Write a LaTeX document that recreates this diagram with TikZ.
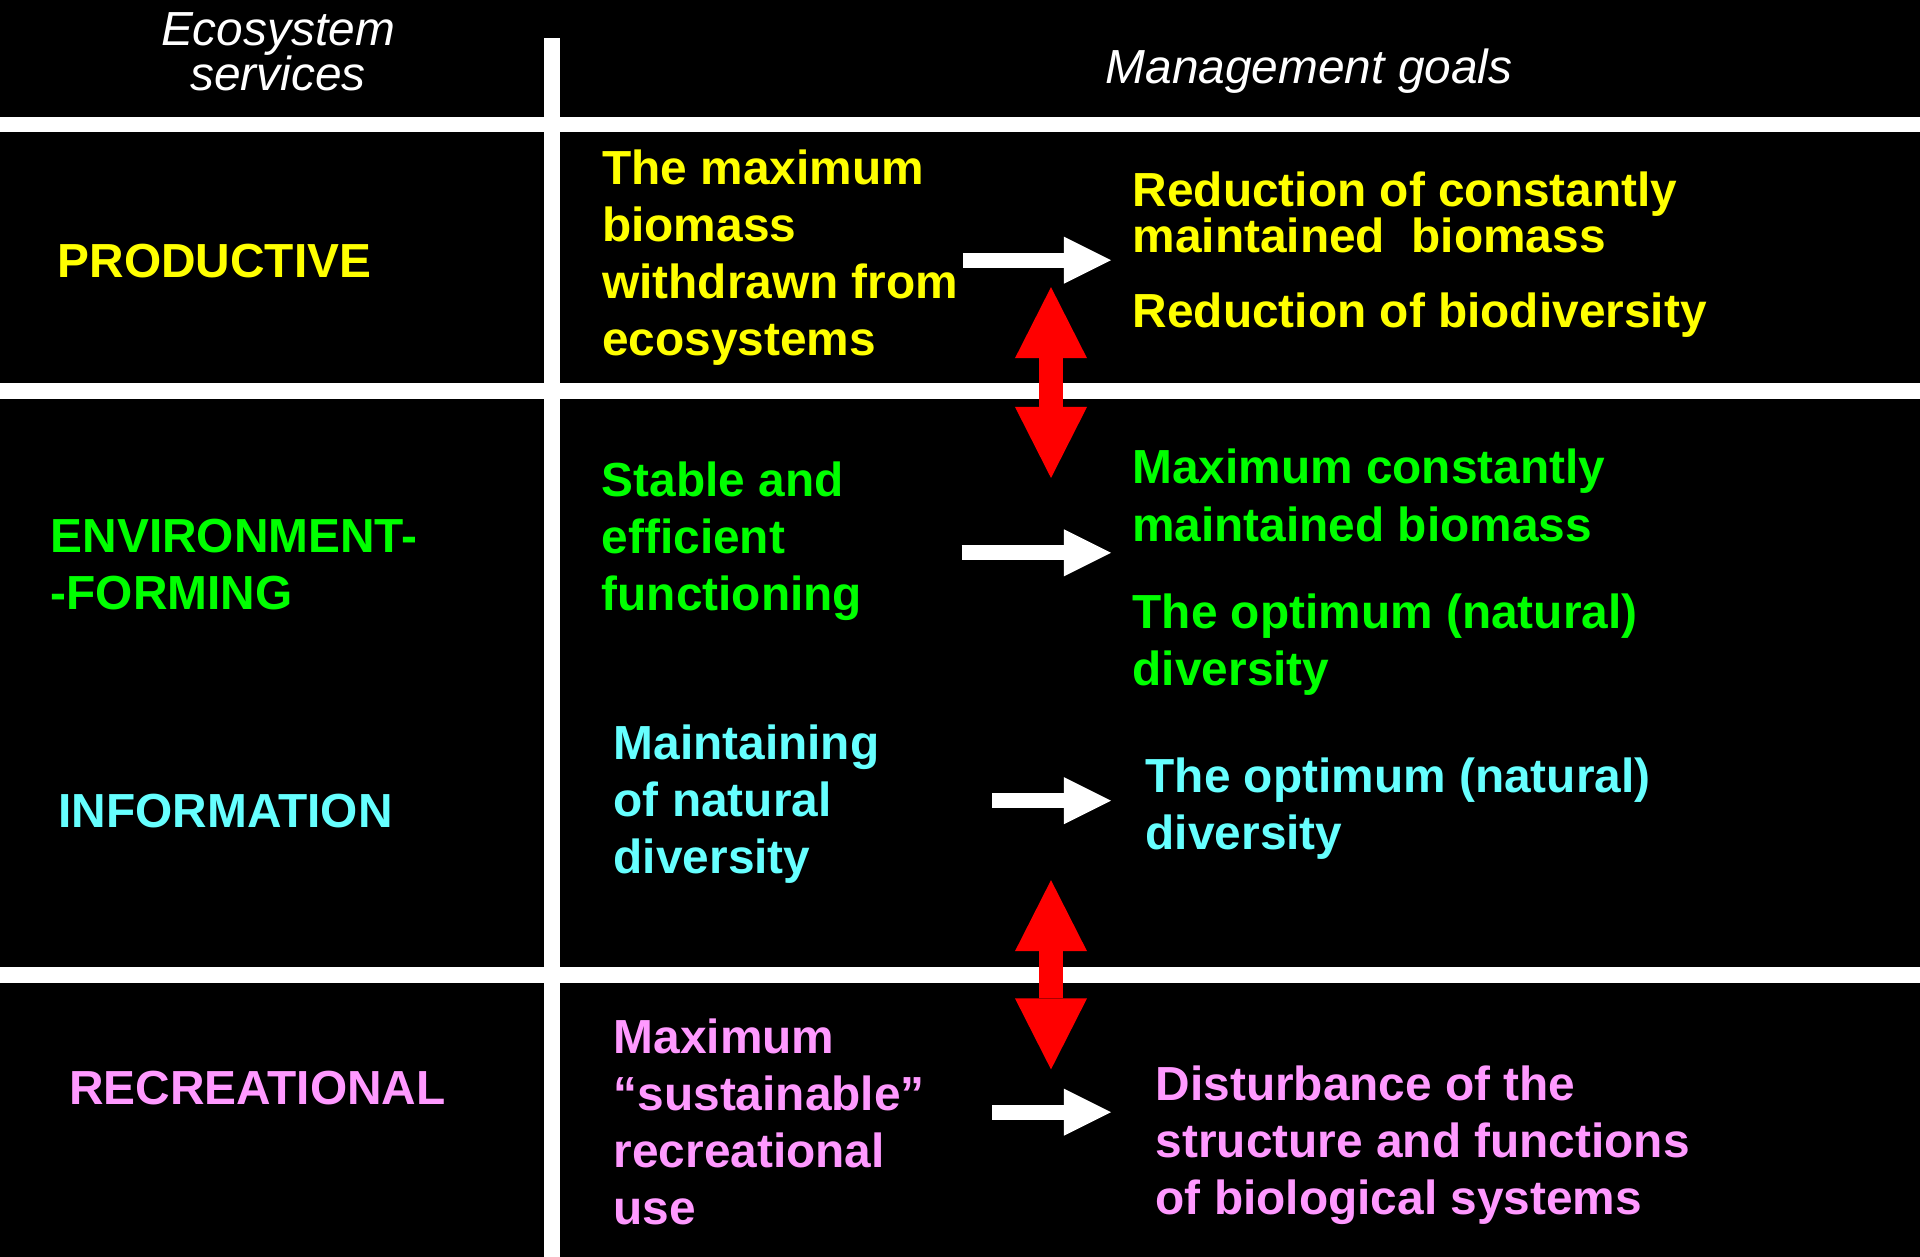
\documentclass[tikz,border=0pt]{standalone}
\usepackage{fontspec}
\setmainfont{Liberation Sans}
\usetikzlibrary{arrows.meta,calc}
\definecolor{prodyellow}{HTML}{FFFF00}
\definecolor{envgreen}{HTML}{00FF00}
\definecolor{infocyan}{HTML}{66FFFF}
\definecolor{recpink}{HTML}{FF99FF}
\begin{document}
\begin{tikzpicture}[x=0.01cm,y=-0.01cm,
  lbl/.style={inner sep=0pt,anchor=base west,align=left,font=\fontsize{13.6}{16.2}\selectfont\bfseries},
  head/.style={inner sep=0pt,anchor=base,align=center,white,font=\fontsize{13.6}{12.8}\selectfont\itshape},
  wharrow/.style={white,line width=0.15cm,-{Triangle[length=0.47cm,width=0.47cm,line width=0pt]}},
  redarrow/.style={red,line width=0.24cm,{Triangle[length=0.71cm,width=0.72cm,line width=0pt]}-{Triangle[length=0.71cm,width=0.72cm,line width=0pt]}}]
   \useasboundingbox (0,0) rectangle (1920,1257);
   \fill[black] (0,0) rectangle (1920,1257);
   % grid of the table
   \fill[white] (0,117) rectangle (1920,132);
   \fill[white] (0,383) rectangle (1920,399);
   \fill[white] (0,967) rectangle (1920,983);
   \fill[white] (544,38) rectangle (560,1257);
  %
   \node[head] (ecoserv) at (278,90.7) {Ecosystem\\services};
   \node[head,anchor=base west] (mgoals) at (1105,83) {Management goals};
  %
   \node[lbl,prodyellow] (prod) at (57,277) {PRODUCTIVE};
   \node[lbl,envgreen] (envf) at (50,609) {ENVIRONMENT-\\-FORMING};
   \node[lbl,infocyan] (info) at (58,827) {INFORMATION};
   \node[lbl,recpink] (recr) at (68.5,1104) {RECREATIONAL};
  %
   \node[lbl,prodyellow] (maxbio) at (601.5,355) {The maximum\\biomass\\withdrawn from\\ecosystems};
   \node[lbl,envgreen] (stable) at (601,610) {Stable and\\efficient\\functioning};
   \node[lbl,infocyan] (maintain) at (613,873) {Maintaining\\of natural\\diversity};
   \node[lbl,recpink] (maxrec) at (613,1224.7) {Maximum\\“sustainable”\\recreational\\use};
  %
   \node[lbl,prodyellow,font=\fontsize{13.6}{12.9}\selectfont\bfseries] (redcon) at (1132,252) {Reduction of constantly\\maintained\ \ biomass};
   \node[lbl,prodyellow] (redbio) at (1132,327.5) {Reduction of biodiversity};
   \node[lbl,envgreen,font=\fontsize{13.6}{16.6}\selectfont\bfseries] (maxcon) at (1131.5,541.7) {Maximum constantly\\maintained biomass};
   \node[lbl,envgreen] (optg) at (1132,685) {The optimum (natural)\\diversity};
   \node[lbl,infocyan] (optc) at (1145,849.5) {The optimum (natural)\\diversity};
   \node[lbl,recpink] (disturb) at (1155,1214.7) {Disturbance of the\\structure and functions\\of biological systems};
  %
   \draw[wharrow] ($(maxbio.east)+(4,3)$) -- ($(redcon.west |- maxbio.east)+(-21,3)$);
   \draw[wharrow] ($(stable.east)+(99,12)$) -- ($(maxcon.west |- stable.east)+(-20.5,12)$);
   \draw[wharrow] ($(maintain.east)+(112,-3)$) -- ($(optc.west |- maintain.east)+(-34,-3)$);
   \draw[wharrow] ($(maxrec.east)+(67,-10)$) -- ($(disturb.west |- maxrec.east)+(-44,-10)$);
  %
   \draw[redarrow] ($(redbio.north west)+(-81,-5)$) -- ($(maxcon.north west)+(-80.5,30)$);
   \draw[redarrow] ($(optc.south west)+(-94,20)$) -- ($(disturb.north west)+(-104,4)$);
\end{tikzpicture}
\end{document}
